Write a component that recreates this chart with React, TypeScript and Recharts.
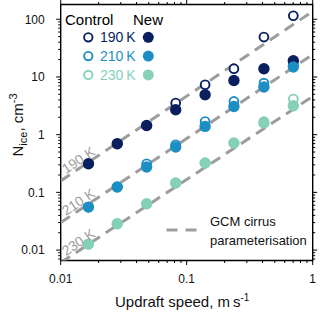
import React from 'react';
import { ScatterChart, Scatter, XAxis, YAxis, Label, ReferenceLine, ReferenceArea } from 'recharts';

const FONT = '"Liberation Sans", Arial, Helvetica, sans-serif';
const NAVY = '#0a1f5e';
const BLUE = '#1d8ec4';
const TEAL = '#84d0b9';
const GREY = '#9d9d9d';

// updraft speed of each parcel run, m s-1
const updraft = [0.0166, 0.0281, 0.0481, 0.0818, 0.14, 0.237, 0.41, 0.702];

// N_ice, cm-3
const control190 = [0.313, 0.695, 1.44, 3.53, 7.32, 13.9, 49.1, 115];
const new190 = [0.313, 0.695, 1.44, 2.7, 4.92, 8.69, 13.9, 19.1];
const control210 = [0.0556, 0.124, 0.313, 0.668, 1.69, 3.76, 7.83, 16.3];
const new210 = [0.0556, 0.124, 0.275, 0.61, 1.39, 3.08, 6.68, 14.9];
const control230 = [0.0127, 0.0286, 0.0634, 0.145, 0.322, 0.715, 1.69, 4.14];
const new230 = [0.0127, 0.0286, 0.0634, 0.145, 0.322, 0.715, 1.59, 3.17];

// GCM cirrus parameterisation, end points at w = 0.01 and 1
const gcmUpdraft = [0.01, 1];
const gcm190 = [0.158, 137];
const gcm210 = [0.03, 24.5];
const gcm230 = [0.00607, 4.6];

const temps = ['190 K', '210 K', '230 K'];
const xMajor = [0.01, 0.1, 1];
const yMajor = [0.01, 0.1, 1, 10, 100];

const X_DOMAIN = [0.01, 1];
const Y_DOMAIN = [0.0066, 180];
const LABEL_X = 0.0149;

const pts = (xs: number[], ys: number[]) => xs.map((x, i) => ({ x, y: ys[i] }));

// position on a parameterisation line (log-log), used to hang its label on it
const along = (ys: number[], x: number) => {
  const l0 = Math.log10(gcmUpdraft[0]);
  const l1 = Math.log10(gcmUpdraft[1]);
  const t = (Math.log10(x) - l0) / (l1 - l0);
  return 10 ** (Math.log10(ys[0]) + t * (Math.log10(ys[1]) - Math.log10(ys[0])));
};

const logTicks = (lo: number, hi: number) => {
  const out: number[] = [];
  for (let e = -3; e <= 2; e++) {
    for (let m = 1; m <= 9; m++) {
      const v = +(m * 10 ** e).toPrecision(3);
      if (v >= lo && v <= hi) out.push(v);
    }
  }
  return out;
};
const xTicks = logTicks(X_DOMAIN[0], X_DOMAIN[1]);
const yTicks = logTicks(Y_DOMAIN[0], Y_DOMAIN[1]);

const isMajor = (v: number, majors: number[]) => majors.some((m) => Math.abs(m - v) / m < 1e-6);
const tickLen = (v: number, majors: number[]) => (isMajor(v, majors) ? 4.5 : 2.5);

const txt = { fontFamily: FONT, fontSize: 12, fill: '#111' };

const XTickLabel = (p: any) => (
  <text x={p.x} y={p.y + 22} textAnchor="middle" {...txt}>{String(p.payload.value)}</text>
);
const YTickLabel = (p: any) => (
  <text x={p.x - 16} y={p.y + 4.3} textAnchor="end" {...txt}>{String(p.payload.value)}</text>
);

// outward tick marks on all four sides of the box, hung on the reference line ends
const XTickMarks = (v: number) => (p: any) => {
  const top = Math.min(p.y1, p.y2);
  const bottom = Math.max(p.y1, p.y2);
  const len = tickLen(v, xMajor);
  return (
    <g>
      <line x1={p.x1} x2={p.x1} y1={bottom} y2={bottom + len} stroke="#000" strokeWidth={1} />
      <line x1={p.x1} x2={p.x1} y1={top} y2={top - len} stroke="#000" strokeWidth={1} />
    </g>
  );
};
const YTickMarks = (v: number) => (p: any) => {
  const left = Math.min(p.x1, p.x2);
  const right = Math.max(p.x1, p.x2);
  const len = tickLen(v, yMajor);
  return (
    <g>
      <line x1={left} x2={left - len} y1={p.y1} y2={p.y1} stroke="#000" strokeWidth={1} />
      <line x1={right} x2={right + len} y1={p.y1} y2={p.y1} stroke="#000" strokeWidth={1} />
    </g>
  );
};

const OpenDot = (color: string) => (p: any) => (
  <circle cx={p.cx} cy={p.cy} r={4.4} fill="#fff" stroke={color} strokeWidth={1.9} />
);
const FilledDot = (color: string) => (p: any) => <circle cx={p.cx} cy={p.cy} r={5.7} fill={color} />;
const NoDot = () => <g />;

const LineLabel = (p: any) => (
  <text
    x={p.cx}
    y={p.cy}
    dy={-2.5}
    transform={`rotate(-33.9 ${p.cx} ${p.cy})`}
    textAnchor="middle"
    fontFamily={FONT}
    fontSize={14}
    fill={GREY}
  >
    {p.payload.label}
  </text>
);

const gcmLines = [
  { name: 'gcm190', ys: gcm190 },
  { name: 'gcm210', ys: gcm210 },
  { name: 'gcm230', ys: gcm230 },
];
const series = [
  { t: temps[0], color: NAVY, control: control190, fresh: new190 },
  { t: temps[1], color: BLUE, control: control210, fresh: new210 },
  { t: temps[2], color: TEAL, control: control230, fresh: new230 },
];
const lineLabels = gcmLines.map((g, i) => ({ x: LABEL_X, y: along(g.ys, LABEL_X), label: temps[i] }));

function KeyOverlay() {
  const t = { fontFamily: FONT };
  return (
    <svg width={320} height={313} style={{ position: 'absolute', left: 0, top: 0, pointerEvents: 'none' }}>
      <text x={65} y={25.4} fontSize={15} fill="#000" {...t}>Control</text>
      <text x={133} y={25.4} fontSize={15} fill="#000" {...t}>New</text>
      {series.map((s, i) => {
        const cy = 37.3 + i * 18.8;
        return (
          <g key={s.t}>
            <circle cx={88.3} cy={cy} r={4.2} fill="#fff" stroke={s.color} strokeWidth={1.9} />
            <text x={100} y={cy + 5} fontSize={14} fill={s.color} {...t}>{s.t.replace(' ', '\u2009')}</text>
            <circle cx={148.3} cy={cy} r={5.5} fill={s.color} />
          </g>
        );
      })}
      <line x1={166.5} x2={197} y1={230} y2={230} stroke={GREY} strokeWidth={3} strokeDasharray="11 8" />
      <text x={210} y={226.4} fontSize={13} fill="#111" {...t}>GCM cirrus</text>
      <text x={210} y={244.5} fontSize={13} fill="#111" {...t}>parameterisation</text>
    </svg>
  );
}

const XTitle = (p: any) => {
  const vb = p.viewBox;
  return (
    <text x={vb.x + vb.width / 2 - 4.5} y={vb.y + 46.5} textAnchor="middle" fontFamily={FONT} fontSize={15} fill="#111">
      Updraft speed, m{'\u2009'}s<tspan dy={-6} fontSize={10}>-1</tspan>
    </text>
  );
};

const YTitle = () => (
  <text x={23} y={125} transform="rotate(-90 23 125)" textAnchor="middle" fontFamily={FONT} fontSize={15} fill="#111">
    N<tspan dy={4} fontSize={11}>ice</tspan>
    <tspan dy={-4}>, cm</tspan>
    <tspan dy={-6} fontSize={11}>-3</tspan>
  </text>
);

export default function App() {
  return (
    <div style={{ position: 'absolute', left: 0, top: 0, width: 320, height: 313, background: '#fff', fontFamily: FONT }}>
      <ScatterChart width={320} height={313} margin={{ top: 4.5, right: 7.3, bottom: 0, left: 0 }}>
        <XAxis
          dataKey="x"
          type="number"
          scale="log"
          domain={X_DOMAIN}
          allowDataOverflow
          ticks={xMajor}
          interval={0}
          height={52.5}
          tickSize={0}
          tickMargin={0}
          tickLine={false}
          axisLine={false}
          tick={XTickLabel}
        >
          <Label content={XTitle} />
        </XAxis>
        <YAxis
          dataKey="y"
          type="number"
          scale="log"
          domain={Y_DOMAIN}
          allowDataOverflow
          ticks={yMajor}
          interval={0}
          width={60.7}
          tickSize={0}
          tickMargin={0}
          tickLine={false}
          axisLine={false}
          tick={YTickLabel}
        >
          <Label content={YTitle} />
        </YAxis>

        {gcmLines.map((g) => (
          <Scatter
            key={g.name}
            data={pts(gcmUpdraft, g.ys)}
            line={{ stroke: GREY, strokeWidth: 3, strokeDasharray: '11 7' }}
            lineType="joint"
            shape={NoDot}
            legendType="none"
            isAnimationActive={false}
          />
        ))}
        {series.map((s) => (
          <Scatter key={'c' + s.t} data={pts(updraft, s.control)} shape={OpenDot(s.color)} isAnimationActive={false} />
        ))}
        {series.map((s) => (
          <Scatter key={'n' + s.t} data={pts(updraft, s.fresh)} shape={FilledDot(s.color)} isAnimationActive={false} />
        ))}
        <Scatter data={lineLabels} shape={LineLabel} legendType="none" isAnimationActive={false} />

        {xTicks.map((v) => (
          <ReferenceLine key={'xt' + v} x={v} ifOverflow="visible" shape={XTickMarks(v)} />
        ))}
        {yTicks.map((v) => (
          <ReferenceLine key={'yt' + v} y={v} ifOverflow="visible" shape={YTickMarks(v)} />
        ))}
        <ReferenceArea
          x1={X_DOMAIN[0]}
          x2={X_DOMAIN[1]}
          y1={Y_DOMAIN[0]}
          y2={Y_DOMAIN[1]}
          ifOverflow="visible"
          fill="none"
          fillOpacity={0}
          stroke="#000"
          strokeWidth={1.4}
        />
      </ScatterChart>
      <KeyOverlay />
    </div>
  );
}
